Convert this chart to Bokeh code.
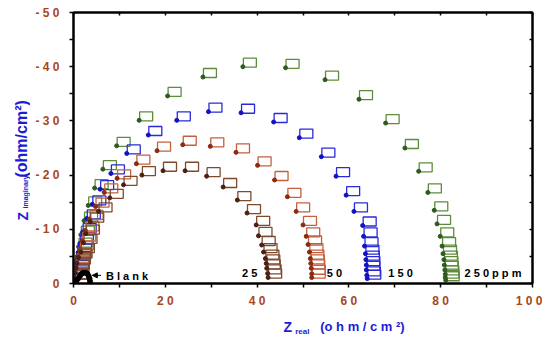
import math
from bokeh.plotting import figure
from bokeh.layouts import row, column
from bokeh.models import Range1d, LinearAxis, FixedTicker, Arrow, NormalHead, ColumnDataSource
from bokeh.core.properties import value
from bokeh.embed import file_html
from bokeh.resources import INLINE

# ---------------- data (Nyquist plot, Z_real vs Z_imaginary) ----------------
x_ticks = [0, 20, 40, 60, 80, 100]
x_minor = [10, 30, 50, 70, 90]
x_tick_labels = ["0", "2 0", "4 0", "6 0", "8 0", "1 0 0"]
y_ticks = [-50, -40, -30, -20, -10, 0]
y_minor = [-45, -35, -25, -15, -5]
y_tick_labels = ["- 5 0", "- 4 0", "- 3 0", "- 2 0", "- 1 0", "0"]

blank_zr = [0.6, 1.0, 1.4, 1.8, 2.2, 2.6, 3.0, 3.3, 3.5, 3.6]
blank_zi = [-0.4, -0.9, -1.4, -1.8, -2.0, -2.0, -1.8, -1.4, -0.9, -0.4]

c25_zr = [0.22, 0.37, 0.52, 0.74, 1.09, 1.61, 2.18, 2.7, 3.64, 5.45, 7.9, 10.9, 14.9, 19.5,
          24.3, 29.0, 32.6, 35.7, 37.8, 39.8, 40.3, 41.0, 41.4, 41.8, 42.0, 42.1, 42.3, 42.4]
c25_zi = [-0.92, -1.85, -2.8, -3.7, -4.8, -5.8, -7.5, -9.2, -11.4, -13.3, -15.8, -18.2, -20.0, -20.8,
          -20.8, -19.8, -17.8, -15.4, -13.0, -10.8, -8.8, -7.1, -5.8, -4.6, -3.7, -2.8, -1.85, -1.1]

c50_zr = [0.2, 0.35, 0.5, 0.7, 1.0, 1.4, 1.9, 2.6, 3.5, 4.8, 6.7, 9.5, 13.7, 18.2, 23.8, 29.8,
          35.4, 40.1, 43.8, 46.6, 48.5, 50.0, 50.7, 51.1, 51.4, 51.6, 51.7, 51.8, 51.9, 51.9]
c50_zi = [-0.9, -1.9, -2.9, -3.9, -5.0, -6.3, -7.9, -9.8, -11.9, -14.2, -16.8, -19.4, -22.1, -24.5,
          -25.6, -25.3, -24.2, -21.8, -19.1, -16.0, -13.3, -10.8, -8.7, -7.2, -5.8, -4.6, -3.7, -2.8,
          -1.8, -1.1]

c150_zr = [0.2, 0.35, 0.5, 0.7, 1.0, 1.4, 2.0, 2.9, 4.1, 5.8, 8.15, 11.6, 16.3, 22.5, 29.4, 36.5,
           43.6, 49.2, 54.0, 57.2, 59.4, 61.1, 63.0, 63.2, 63.4, 63.6, 63.7, 63.8, 63.8, 63.9, 64.0]
c150_zi = [-0.9, -2.0, -3.1, -4.3, -5.7, -7.4, -9.5, -12.0, -14.6, -17.4, -20.3, -24.0, -27.4, -30.1,
           -31.7, -31.5, -29.8, -26.9, -23.4, -19.8, -16.3, -13.3, -10.7, -8.7, -6.9, -5.5, -4.4,
           -3.4, -2.5, -1.5, -0.9]

c250_zr = [0.2, 0.35, 0.55, 0.8, 1.1, 1.6, 2.3, 3.2, 4.6, 6.4, 9.4, 14.3, 20.5, 28.2, 36.9, 46.2,
           54.8, 62.2, 68.0, 72.2, 75.2, 77.2, 78.6, 79.2, 79.9, 80.3, 80.5, 80.7, 80.8, 80.9, 81.0,
           81.0, 81.1]
c250_zi = [-1.0, -2.2, -3.5, -5.0, -6.8, -9.0, -11.6, -14.4, -17.6, -21.1, -25.4, -30.1, -34.6, -38.1,
           -40.0, -39.8, -37.6, -34.0, -29.6, -25.0, -20.7, -16.8, -13.5, -11.0, -8.7, -6.9, -5.5,
           -4.4, -3.4, -2.5, -1.7, -1.1, -0.6]

series_labels = ["2 5", "5 0", "1 5 0", "2 5 0 p p m"]
series_label_x = [36.7, 55.2, 68.6, 85.2]
series_label_y = [-1.9, -1.9, -1.9, -1.9]

# ---------------- layout / styling ----------------
X_START, X_END = 0, 100
Y_START, Y_END = 0, -50
FRAME_W, FRAME_H = 459, 271
LEFT_W = 30            # strip holding the rotated y title
BORDER_L, BORDER_R, BORDER_T, BORDER_B = 43, 10, 12, 28
BOTTOM_H = 29          # strip holding the x title
MAIN_W = BORDER_L + FRAME_W + BORDER_R
MAIN_H = BORDER_T + FRAME_H + BORDER_B
SQ_DX_PX, SQ_DY_PX = 7, 4
dx = SQ_DX_PX * (X_END - X_START) / FRAME_W
dy = SQ_DY_PX * (Y_END - Y_START) / FRAME_H

FONT = "Liberation Sans"
TICK_COLOR = "#a8461e"
TITLE_COLOR = "#1c1cd6"

p = figure(frame_width=FRAME_W, frame_height=FRAME_H,
           x_range=Range1d(X_START, X_END), y_range=Range1d(Y_START, Y_END),
           output_backend="svg", toolbar_location=None,
           x_axis_location=None, y_axis_location=None,
           min_border_left=BORDER_L, min_border_right=BORDER_R,
           min_border_top=BORDER_T, min_border_bottom=BORDER_B)
p.outline_line_color = "black"
p.outline_line_width = 2
p.background_fill_color = "white"
p.border_fill_color = "white"
p.xgrid.visible = False
p.ygrid.visible = False


def make_axis(ticks, minor, labels, show, t_in, t_out):
    if show:
        ax = LinearAxis(ticker=FixedTicker(ticks=ticks, minor_ticks=minor))
        ax.major_label_overrides = {t: l for t, l in zip(ticks, labels)}
        ax.major_label_text_font = FONT
        ax.major_label_text_font_style = "bold"
        ax.major_label_text_font_size = "12px"
        ax.major_label_text_color = TICK_COLOR
    else:
        # only (minor) ticks, no labels at all
        ax = LinearAxis(ticker=FixedTicker(ticks=[], minor_ticks=sorted(ticks + minor)))
    ax.axis_line_color = "black"
    ax.axis_line_width = 2
    ax.major_tick_line_color = "black"
    ax.minor_tick_line_color = "black"
    ax.major_tick_line_width = 1.5
    ax.minor_tick_line_width = 1.5
    ax.major_tick_in = t_in
    ax.major_tick_out = t_out
    ax.minor_tick_in = t_in
    ax.minor_tick_out = t_out
    return ax


xb = make_axis(x_ticks, x_minor, x_tick_labels, True, 0, 4)
xb.major_label_standoff = 6
yl = make_axis(y_ticks, y_minor, y_tick_labels, True, 0, 4)
yl.major_label_standoff = 10
xt = make_axis(x_ticks, x_minor, x_tick_labels, False, 3, 0)
yr = make_axis(y_ticks, y_minor, y_tick_labels, False, 3, 0)
p.add_layout(xb, "below")
p.add_layout(yl, "left")
p.add_layout(xt, "above")
p.add_layout(yr, "right")

curves = [
    (c250_zr, c250_zi, "#5e8c3c", "#2e5a1e"),
    (c150_zr, c150_zi, "#2a2ad8", "#1212c0"),
    (c50_zr, c50_zi, "#c4603e", "#8a2a10"),
    (c25_zr, c25_zi, "#7e4a2e", "#4a2010"),
]
for zr, zi, sq_col, dot_col in curves:
    src = ColumnDataSource(dict(x=zr, y=zi,
                                xs=[v + dx for v in zr], ys=[v + dy for v in zi]))
    p.rect(x="xs", y="ys", width=13, height=9, width_units="screen", height_units="screen",
           fill_color=None, line_color=sq_col, line_width=1.3, source=src)
    p.scatter(x="x", y="y", size=4, fill_color=dot_col, line_color=dot_col, source=src)

p.scatter(blank_zr, blank_zi, size=5, fill_color="black", line_color="black")

p.text(x=series_label_x, y=series_label_y, text=series_labels,
       text_font=value(FONT), text_font_style="bold", text_font_size="11px",
       text_color="black", text_baseline="middle", text_align="left")

p.text(x=[7.06], y=[-1.4], text=["B l a n k"], text_font=value(FONT), text_font_style="bold",
       text_font_size="11px", text_color="black", text_baseline="middle", text_align="left")
p.add_layout(Arrow(x_start=6.0, y_start=-1.5, x_end=4.1, y_end=-1.5, line_color="black", line_width=1,
                   end=NormalHead(size=5, fill_color="black", line_color="black")))


def strip(w, h):
    f = figure(frame_width=w, frame_height=h, x_range=Range1d(0, w), y_range=Range1d(h, 0),
               output_backend="svg", toolbar_location=None,
               x_axis_location=None, y_axis_location=None,
               min_border_left=0, min_border_right=0, min_border_top=0, min_border_bottom=0)
    f.outline_line_color = None
    f.background_fill_color = "white"
    f.border_fill_color = "white"
    f.xgrid.visible = False
    f.ygrid.visible = False
    return f


def title_text(f, x, y, text, size, angle=0.0):
    f.text(x=[x], y=[y], text=[text], angle=angle, text_font=value(FONT), text_font_style="bold",
           text_font_size=size, text_color=TITLE_COLOR, text_align="left", text_baseline="alphabetic")


# x title strip (below main figure); coordinates in strip pixels
pb = strip(MAIN_W, BOTTOM_H)
title_text(pb, 210, 15, "Z", "14px")
title_text(pb, 221.7, 20, "real", "8px")
title_text(pb, 246.7, 15, "(o h m / c m ²)", "13px")

# y title strip (left of main figure), rotated text
pl = strip(LEFT_W, MAIN_H + BOTTOM_H)
title_text(pl, 22.5, 220, "Z", "14px", math.pi / 2)
title_text(pl, 24.5, 208, "imaginary", "7px", math.pi / 2)
title_text(pl, 21.0, 177, "(ohm/cm²)", "16px", math.pi / 2)

layout = row(pl, column(p, pb))
open("out.html", "w").write(file_html(layout, INLINE))
